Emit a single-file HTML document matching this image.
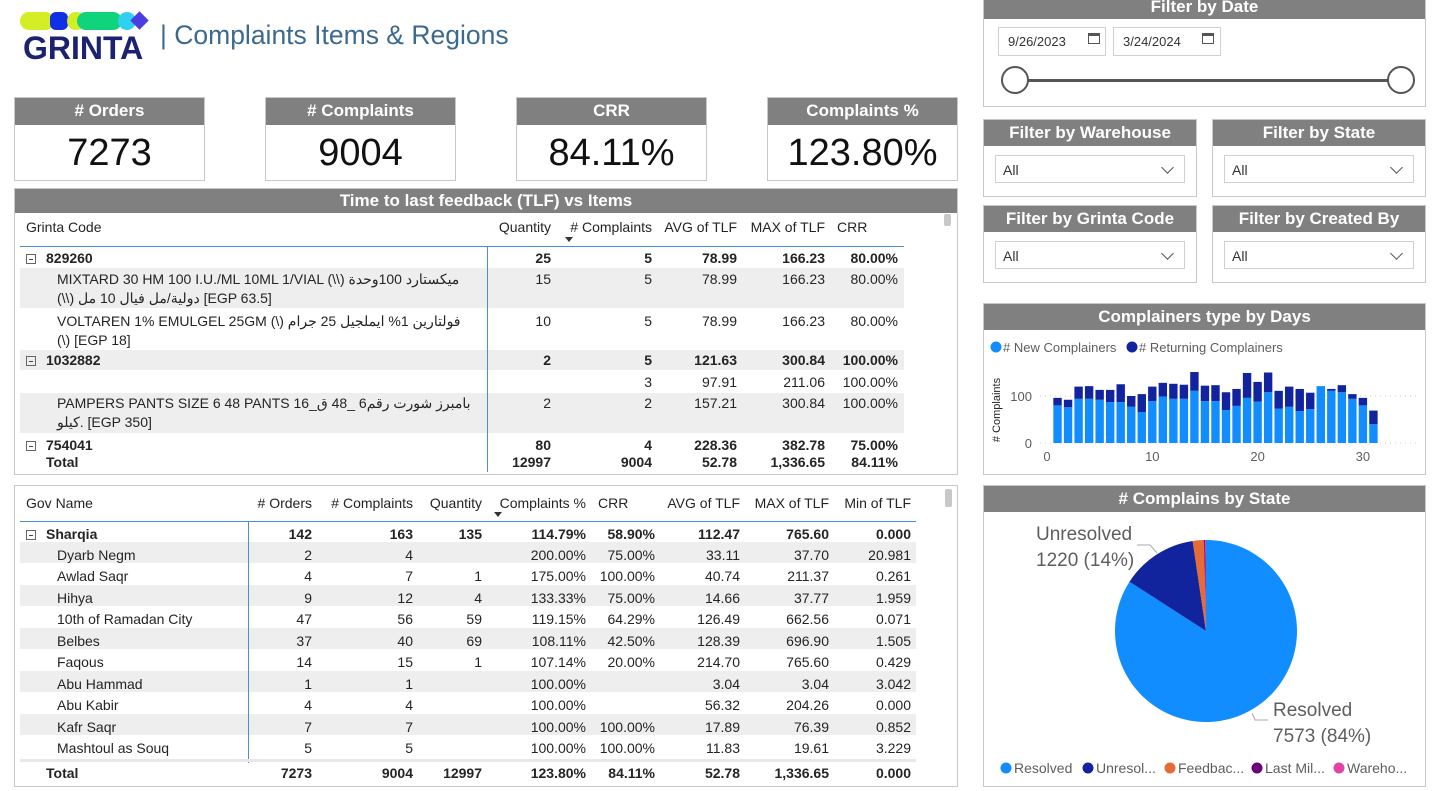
<!DOCTYPE html>
<html><head><meta charset="utf-8">
<style>
*{box-sizing:border-box;margin:0;padding:0}
body{width:1443px;height:791px;background:#fff;position:relative;overflow:hidden;font-family:"Liberation Sans","Noto Sans CJK SC",sans-serif;color:#252423}
.abs{position:absolute}
.box{position:absolute;border:1px solid #c8c8c8;background:#fff}
.hdr{position:absolute;left:0;right:0;top:0;background:#808080;color:#fff;font-weight:bold;font-size:17px;text-align:center}
.kpi .val{position:absolute;left:0;right:0;top:34px;text-align:center;font-size:38px;color:#111}
.dd{position:absolute;border:1px solid #d0d0d0;font-size:14px;color:#333;padding:6px 0 0 7px}
.dd.sel:after{content:"";position:absolute;right:12px;top:7px;width:8px;height:8px;border-right:1.5px solid #555;border-bottom:1.5px solid #555;transform:rotate(45deg)}
.t{position:absolute;font-size:14px;white-space:nowrap;color:#252423}
.b{font-weight:bold}
.band{position:absolute;background:#eeeeee}
.vl{position:absolute;width:1px;background:#4a90d0;z-index:5}
.minus{position:absolute;width:10px;height:10px;border:1px solid #666;font-size:0}
.minus:after{content:"";position:absolute;left:2px;top:4px;width:4px;height:1px;background:#444}
.cal{position:absolute;width:12px;height:11px;border:1px solid #555;border-top-width:3px}
</style></head><body>

<div class="abs" style="left:20px;top:10px;width:135px;height:55px">
  <div class="abs" style="left:0;top:2px;width:34px;height:18px;border-radius:9px;background:#d4ee25"></div>
  <div class="abs" style="left:30px;top:2px;width:18px;height:18px;border-radius:6px;background:#1030e8"></div>
  <div class="abs" style="left:47px;top:2px;width:18px;height:18px;border-radius:9px;background:#d4ee25"></div>
  <div class="abs" style="left:57px;top:2px;width:45px;height:18px;border-radius:9px;background:#0fd47c"></div>
  <div class="abs" style="left:98px;top:2px;width:18px;height:18px;border-radius:9px;background:#30d0f0"></div>
  <div class="abs" style="left:113px;top:4px;width:13px;height:13px;transform:rotate(45deg);background:#4a3ee0"></div>
  <div class="abs" style="left:3px;top:20px;font-size:32px;font-weight:900;color:#1b2370">GRINTA</div>
</div>
<div class="abs" style="left:160px;top:20px;font-size:26.5px;color:#3c6a8e">| Complaints Items &amp; Regions</div>

<div class="box kpi" style="left:14px;top:97px;width:191px;height:84px"><div class="hdr" style="height:27px;line-height:26px">#&nbsp;Orders</div><div class="val">7273</div></div>
<div class="box kpi" style="left:265px;top:97px;width:191px;height:84px"><div class="hdr" style="height:27px;line-height:26px"># Complaints</div><div class="val">9004</div></div>
<div class="box kpi" style="left:516px;top:97px;width:191px;height:84px"><div class="hdr" style="height:27px;line-height:26px">CRR</div><div class="val">84.11%</div></div>
<div class="box kpi" style="left:767px;top:97px;width:191px;height:84px"><div class="hdr" style="height:27px;line-height:26px">Complaints %</div><div class="val">123.80%</div></div>

<div class="box" style="left:14px;top:188px;width:944px;height:287px">
  <div class="hdr" style="height:24px;line-height:23px">Time to last feedback (TLF) vs Items</div>
</div>
<div class="abs" style="left:944px;top:214px;width:7px;height:12px;background:#c8c8c8;border-radius:2px"></div>
<div class="t" style="left:26px;top:219px">Grinta Code</div>
<div class="t" style="left:451px;width:100px;top:219px;text-align:right">Quantity</div>
<div class="t" style="left:552px;width:100px;top:219px;text-align:right"># Complaints</div>
<div class="abs" style="left:565px;top:237px;border-left:4px solid transparent;border-right:4px solid transparent;border-top:5px solid #333"></div>
<div class="t" style="left:637px;width:100px;top:219px;text-align:right">AVG of TLF</div>
<div class="t" style="left:725px;width:100px;top:219px;text-align:right">MAX of TLF</div>
<div class="t" style="left:837px;top:219px">CRR</div>
<div class="abs" style="left:20px;top:246px;width:884px;height:1px;background:#4a90d0"></div>
<div class="band" style="left:20px;top:268px;width:884px;height:40px"></div>
<div class="band" style="left:20px;top:350px;width:884px;height:20px"></div>
<div class="band" style="left:20px;top:393px;width:884px;height:40px"></div>
<div class="vl" style="left:487px;top:246px;height:226px"></div>

<div id="t1"></div>

<div class="box" style="left:14px;top:485px;width:944px;height:302px"></div>
<div class="abs" style="left:945px;top:489px;width:7px;height:18px;background:#c8c8c8;border-radius:2px"></div>
<div class="abs" style="left:20px;top:521px;width:896px;height:1px;background:#4a90d0"></div>
<div class="vl" style="left:248px;top:521px;height:242px"></div>
<div class="abs" style="left:20px;top:759px;width:896px;height:3px;background:#e8e8e8;z-index:6"></div>
<div id="t2"></div>

<div class="box" style="left:983px;top:-8px;width:443px;height:115px"><div class="hdr" style="height:26px;line-height:28px">Filter by Date</div></div>
<div class="dd" style="left:998px;top:27px;width:108px;height:29px;font-size:13px;padding-left:9px">9/26/2023</div>
<div class="dd" style="left:1113px;top:27px;width:108px;height:29px;font-size:13px;padding-left:9px">3/24/2024</div>
<div class="cal" style="left:1088px;top:33px"></div>
<div class="cal" style="left:1202px;top:33px"></div>
<div class="abs" style="left:1015px;top:79px;width:386px;height:3px;background:#555"></div>
<div class="abs" style="left:1001px;top:66px;width:28px;height:28px;border-radius:50%;border:2px solid #555;background:#fff"></div>
<div class="abs" style="left:1387px;top:66px;width:28px;height:28px;border-radius:50%;border:2px solid #555;background:#fff"></div>

<div class="box" style="left:983px;top:119px;width:214px;height:78px"><div class="hdr" style="height:26px;line-height:26px">Filter by Warehouse</div></div>
<div class="dd sel" style="left:995px;top:155px;width:190px;height:28px">All</div>
<div class="box" style="left:1212px;top:119px;width:214px;height:78px"><div class="hdr" style="height:26px;line-height:26px">Filter by State</div></div>
<div class="dd sel" style="left:1224px;top:155px;width:190px;height:28px">All</div>
<div class="box" style="left:983px;top:205px;width:214px;height:78px"><div class="hdr" style="height:26px;line-height:26px">Filter by Grinta Code</div></div>
<div class="dd sel" style="left:995px;top:241px;width:190px;height:28px">All</div>
<div class="box" style="left:1212px;top:205px;width:214px;height:78px"><div class="hdr" style="height:26px;line-height:26px">Filter by Created By</div></div>
<div class="dd sel" style="left:1224px;top:241px;width:190px;height:28px">All</div>

<div class="box" style="left:983px;top:303px;width:443px;height:172px"><div class="hdr" style="height:26px;line-height:25px">Complainers type by Days</div></div>
<div class="box" style="left:983px;top:485px;width:443px;height:302px"><div class="hdr" style="height:26px;line-height:25px"># Complains by State</div></div>

<svg class="abs" style="left:0;top:0" width="1443" height="791">
  <g id="bars"></g>
  <g id="pie"></g>
</svg>

<script>
const days = [1,2,3,4,5,6,7,8,9,10,11,12,13,14,15,16,17,18,19,20,21,22,23,24,25,26,27,28,29,30,31];
const newComplainers = [80,76,94,94,92,87,87,77,66,89,99,94,94,111,89,89,70,79,96,88,108,73,77,68,72,121,111,108,94,80,40];
const returningComplainers = [16,16,26,27,21,26,38,23,38,31,29,32,30,40,33,34,38,36,53,42,42,38,43,47,35,0,4,15,10,16,29];
const yTicks = [0,100];
const xTicks = [0,10,20,30];
const pieLabels = ["Resolved","Unresolved","Feedback","Last Mile","Warehouse"];
const pieValues = [7573,1220,180,20,11];
const pieLegend = ["Resolved","Unresol...","Feedbac...","Last Mil...","Wareho..."];
const pieColors = ["#118dff","#12239e","#e66c37","#6b007b","#e044a7"];

const NS="http://www.w3.org/2000/svg";
function mk(tag,attrs,parent){const e=document.createElementNS(NS,tag);for(const k in attrs)e.setAttribute(k,attrs[k]);parent.appendChild(e);return e;}
const bars=document.getElementById('bars');
const xS=d=>1047+d*10.53;
const yS=v=>443-v*0.47;
yTicks.forEach(v=>{
  const l=mk('line',{x1:1040,x2:1420,y1:yS(v),y2:yS(v),stroke:'#ccc','stroke-dasharray':'1 4'},bars);
  
  
  const t=mk('text',{x:1032,y:yS(v)+5,'text-anchor':'end','font-size':13,fill:'#605e5c'},bars);t.textContent=v;
  
  
});
xTicks.forEach(v=>{
  const t=mk('text',{x:xS(v),y:461,'text-anchor':'middle','font-size':13,fill:'#605e5c'},bars);t.textContent=v;
  
  
});
const yt=mk('text',{x:0,y:0,'font-size':11,fill:'#252423','text-anchor':'middle',transform:'translate(1000,410) rotate(-90)'},bars);yt.textContent='# Complaints';


days.forEach((d,i)=>{
  const n=newComplainers[i], r=returningComplainers[i];
  const a=mk('rect',{x:xS(d)-4.2,y:yS(n),width:8.4,height:yS(0)-yS(n),fill:'#118dff'},bars);
  
  
  const b=mk('rect',{x:xS(d)-4.2,y:yS(n+r),width:8.4,height:yS(n)-yS(n+r),fill:'#12239e'},bars);
  
  
});
[["# New Complainers","#118dff",990],["# Returning Complainers","#12239e",1126]].forEach(l=>{
  const c=mk('circle',{cx:l[2]+6,cy:347,r:5.5,fill:l[1]},bars);
  
  
  const t=mk('text',{x:l[2]+13,y:352,'font-size':13,fill:'#605e5c'},bars);t.textContent=l[0];
  
  
});

const pie=document.getElementById('pie');
const cx=1206,cy=631,R=91;
const tot=pieValues.reduce((a,b)=>a+b,0);
let ang=0;
pieValues.forEach((v,i)=>{
  const a0=ang,a1=ang+v/tot*2*Math.PI;ang=a1;
  const p0=[cx+R*Math.sin(a0),cy-R*Math.cos(a0)],p1=[cx+R*Math.sin(a1),cy-R*Math.cos(a1)];
  const large=(a1-a0)>Math.PI?1:0;
  const p=mk('path',{d:`M${cx},${cy}L${p0[0]},${p0[1]}A${R},${R} 0 ${large} 1 ${p1[0]},${p1[1]}Z`,fill:pieColors[i]},pie);
  
  
});
function lbl(x,y,s){const t=mk('text',{x:x,y:y,'font-size':19,fill:'#605e5c'},pie);t.textContent=s;}
lbl(1036,540,pieLabels[1]);
lbl(1036,566,pieValues[1]+" ("+Math.round(pieValues[1]/tot*100)+"%)");
lbl(1273,716,pieLabels[0]);
lbl(1273,742,pieValues[0]+" ("+Math.round(pieValues[0]/tot*100)+"%)");
mk('polyline',{points:'1137,545 1150,545 1157,553',fill:'none',stroke:'#aaa'},pie);
mk('polyline',{points:'1252,713 1255,720 1268,720',fill:'none',stroke:'#aaa'},pie);
let lx=1000;
pieLegend.forEach((s,i)=>{
  const c=mk('circle',{cx:lx+6,cy:768,r:5.5,fill:pieColors[i]},pie);
  
  
  const t=mk('text',{x:lx+14,y:773,'font-size':14,fill:'#605e5c'},pie);t.textContent=s;
  
  
  lx+=[82,82,87,82,0][i];
});

function cell(parent,txt,x,y,w,align,bold){
  const d=document.createElement('div');
  d.className='t'+(bold?' b':'');
  d.style.left=x+'px';d.style.top=y+'px';
  if(w){d.style.width=w+'px';d.style.textAlign=align;}
  d.textContent=txt;parent.appendChild(d);return d;
}
const t1=document.getElementById('t1');
const c1=[[451,100],[552,100],[637,100],[725,100],[798,100]];
const rows1=[
 [250,["25","5","78.99","166.23","80.00%"],true,"829260"],
 [271,["15","5","78.99","166.23","80.00%"],false,"MIXTARD 30 HM 100 I.U./ML 10ML 1/VIAL (\\\\) ميكستارد 100وحدة","(\\\\) دولية/مل فيال 10 مل [EGP 63.5]"],
 [313,["10","5","78.99","166.23","80.00%"],false,"VOLTAREN 1% EMULGEL 25GM (\\) فولتارين 1% ايملجيل 25 جرام","(\\) [EGP 18]"],
 [352,["2","5","121.63","300.84","100.00%"],true,"1032882"],
 [374,["","3","97.91","211.06","100.00%"],false,""],
 [395,["2","2","157.21","300.84","100.00%"],false,"PAMPERS PANTS SIZE 6 48 PANTS 16_بامبرز شورت رقم6 _48 ق","كيلو. [EGP 350]"],
 [437,["80","4","228.36","382.78","75.00%"],true,"754041"],
 [454,["12997","9004","52.78","1,336.65","84.11%"],true,"Total"]
];
rows1.forEach(r=>{
  r[1].forEach((v,i)=>cell(t1,v,c1[i][0],r[0],c1[i][1],'right',r[2]));
  if(r[2]){
    cell(t1,r[3],46,r[0],0,'',true);
    if(r[3]!=="Total"){const m=document.createElement('div');m.className='minus';m.style.left='26px';m.style.top=(r[0]+4)+'px';t1.appendChild(m);}
  } else if(r[3]){
    const a=cell(t1,r[3],57,r[0],0,'',false);a.style.maxWidth='425px';a.style.overflow='hidden';
    cell(t1,r[4],57,r[0]+19,0,'',false);
  }
});

const t2=document.getElementById('t2');
const hdr2=[["Gov Name",26,0],["# Orders",212,100],["# Complaints",313,100],["Quantity",382,100],["Complaints %",486,100],["CRR",598,0],["AVG of TLF",640,100],["MAX of TLF",729,100],["Min of TLF",811,100]];
hdr2.forEach(h=>cell(t2,h[0],h[1],495,h[2],'right',false));
const arr=document.createElement('div');arr.className='abs';arr.style.cssText='left:494px;top:512px;border-left:4px solid transparent;border-right:4px solid transparent;border-top:5px solid #333';t2.appendChild(arr);
const c2=[[212,100],[313,100],[382,100],[486,100],[555,100],[640,100],[729,100],[811,100]];
const rows2=[
 ["Sharqia","142","163","135","114.79%","58.90%","112.47","765.60","0.000"],
 ["Dyarb Negm","2","4","","200.00%","75.00%","33.11","37.70","20.981"],
 ["Awlad Saqr","4","7","1","175.00%","100.00%","40.74","211.37","0.261"],
 ["Hihya","9","12","4","133.33%","75.00%","14.66","37.77","1.959"],
 ["10th of Ramadan City","47","56","59","119.15%","64.29%","126.49","662.56","0.071"],
 ["Belbes","37","40","69","108.11%","42.50%","128.39","696.90","1.505"],
 ["Faqous","14","15","1","107.14%","20.00%","214.70","765.60","0.429"],
 ["Abu Hammad","1","1","","100.00%","","3.04","3.04","3.042"],
 ["Abu Kabir","4","4","","100.00%","","56.32","204.26","0.000"],
 ["Kafr Saqr","7","7","","100.00%","100.00%","17.89","76.39","0.852"],
 ["Mashtoul as Souq","5","5","","100.00%","100.00%","11.83","19.61","3.229"]
];
const ys2=[526,547,568,590,611,633,654,676,697,719,740];
rows2.forEach((r,k)=>{
  const y=ys2[k];
  if(k%2===1){const b=document.createElement('div');b.className='band';b.style.cssText=`left:20px;top:${y-5}px;width:896px;height:21px`;t2.appendChild(b);}
  const bold=k===0;
  if(bold){cell(t2,r[0],46,y,0,'',true);const m=document.createElement('div');m.className='minus';m.style.left='26px';m.style.top=(y+4)+'px';t2.appendChild(m);}
  else cell(t2,r[0],57,y,0,'',false);
  r.slice(1).forEach((v,i)=>cell(t2,v,c2[i][0],y,c2[i][1],'right',bold));
});
const tot2=["7273","9004","12997","123.80%","84.11%","52.78","1,336.65","0.000"];
cell(t2,"Total",46,765,0,'',true);
tot2.forEach((v,i)=>cell(t2,v,c2[i][0],765,c2[i][1],'right',true));
</script>
</body></html>
